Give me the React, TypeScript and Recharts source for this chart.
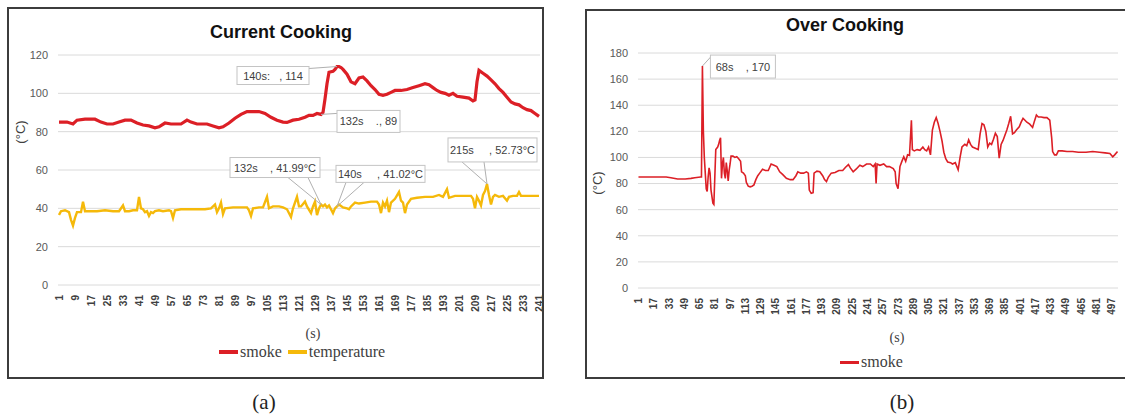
import React from 'react';
import { LineChart, Line, XAxis, YAxis, CartesianGrid, Legend, ReferenceDot } from 'recharts';

// (time in s, value) pairs
const currentSmoke: [number, number][] = [
  [1, 85], [5, 85], [8, 84], [10, 86], [14, 86.5], [19, 86.5], [22, 85], [25, 84], [28, 84], [31, 85],
  [34, 86], [37, 86], [40, 84.5], [43, 83.5], [46, 83], [49, 82], [51, 82.5], [54, 84.5], [57, 84], [62, 84],
  [65, 86], [67, 85], [70, 84], [75, 84], [78, 83], [81, 82], [83, 82.5], [86, 84.5], [89, 87], [92, 89],
  [95, 90.5], [101, 90.5], [104, 89.5], [107, 87.5], [110, 86], [113, 85], [115, 84.8], [118, 86], [121, 86.5],
  [124, 87.5], [126, 88.5], [128, 88.5], [130, 89.5], [132, 89], [133, 90], [134, 97], [135, 105], [136, 111],
  [138, 111.5], [139, 112.5], [140, 114], [141, 114], [142, 113.5], [143, 112.5], [145, 110], [147, 106],
  [149, 105], [151, 108], [153, 108.5], [155, 106.5], [157, 104], [159, 102], [161, 99.5], [163, 99],
  [165, 99.5], [167, 100.5], [169, 101.5], [172, 101.5], [175, 102], [178, 103], [181, 104], [184, 105],
  [186, 104.5], [188, 103], [190, 101.5], [192, 100.5], [194, 100], [196, 99], [198, 100], [200, 98.5],
  [203, 98], [206, 97.5], [208, 96], [209, 96.5], [210, 106], [211, 112], [213, 110.5], [215, 109], [217, 107],
  [219, 105], [221, 102.5], [223, 100.5], [225, 98], [227, 95.5], [229, 94.5], [231, 94], [233, 92.5],
  [235, 91.5], [237, 91], [239, 89.5], [241, 88],
];

const currentTemperature: [number, number][] = [
  [1, 36.5], [2, 38.5], [4, 39], [6, 38], [7, 34], [8, 31], [9, 35], [10, 38], [12, 38], [13, 43.5], [14, 38.5],
  [16, 38.5], [20, 38.5], [24, 39], [28, 38.5], [31, 38.5], [33, 41.5], [34, 38.5], [36, 38.5], [38, 39],
  [40, 39], [41, 46], [42, 40], [43, 39.5], [44, 38], [45, 38.5], [46, 36], [47, 38], [48, 37.5], [49, 38.5],
  [51, 39], [53, 38.5], [56, 39], [57, 38.5], [58, 35], [59, 39], [62, 39.5], [66, 39.5], [70, 39.5],
  [74, 39.5], [77, 40], [79, 42], [80, 38], [81, 40], [82, 43], [83, 37], [84, 40], [88, 40.5], [92, 40.5],
  [95, 40.5], [96, 39], [97, 36], [98, 40], [101, 40.5], [103, 40.5], [105, 46], [106, 40], [108, 41],
  [111, 41], [113, 40.5], [115, 39.5], [117, 35.5], [118, 40], [120, 46], [121, 41], [122, 41], [124, 43.5],
  [125, 41], [127, 37.5], [128, 41], [129, 43.5], [130, 36.5], [131, 40], [132, 42], [133, 41], [134, 42],
  [135, 40.5], [136, 41.5], [138, 37.5], [139, 40], [140, 41], [141, 42], [143, 40.5], [145, 40], [146, 39.5],
  [147, 41], [149, 43], [151, 42.5], [154, 43], [157, 43.5], [160, 43.5], [161, 42], [162, 37.5], [163, 43],
  [164, 41], [165, 44], [166, 38], [167, 43], [169, 45], [171, 48.5], [172, 44], [173, 43], [174, 37.5],
  [175, 42], [177, 45], [180, 45.5], [184, 46], [188, 46], [191, 47], [193, 46], [195, 50], [196, 45.5],
  [199, 46.5], [203, 46.5], [207, 46.5], [208, 45], [209, 40], [210, 46], [211, 44], [212, 41.5], [213, 47],
  [214, 49], [215, 52.7], [216, 47], [217, 42], [218, 46], [219, 47], [221, 46], [223, 46.5], [225, 44],
  [226, 46], [228, 46.5], [230, 46.5], [231, 48.5], [232, 46.5], [235, 46.5], [238, 46.5], [241, 46.5],
];

const overSmoke: [number, number][] = [
  [1, 85], [15, 85], [30, 85], [35, 84.5], [42, 83.5], [50, 83.5], [56, 84], [60, 84.5], [66, 85], [67, 85],
  [68, 170], [69, 120], [70, 100], [71, 88], [72, 76], [73, 74], [74, 85], [75, 92], [76, 88], [77, 75],
  [78, 70], [79, 65], [80, 64], [81, 85], [82, 106], [84, 108], [85, 110], [86, 113], [87, 115], [88, 84],
  [89, 95], [90, 100], [91, 88], [92, 84], [93, 96], [94, 90], [95, 82], [96, 90], [97, 95], [98, 101],
  [100, 101], [102, 100], [104, 100.5], [106, 99], [108, 97], [109, 89], [111, 88], [113, 86], [114, 81],
  [116, 78], [118, 77.5], [120, 78], [122, 79], [124, 83], [126, 86], [128, 88], [131, 91], [134, 90],
  [137, 90], [140, 95], [143, 94], [146, 93], [149, 89], [152, 87], [156, 84], [160, 83], [163, 83], [166, 86],
  [168, 89], [171, 88], [174, 88], [177, 89], [179, 88], [180, 75], [182, 72.5], [184, 73], [185, 88],
  [188, 89.5], [191, 89], [194, 86], [196, 83], [198, 81.5], [200, 85], [203, 88], [207, 88.5], [211, 90],
  [215, 90], [218, 92.5], [221, 94.5], [223, 92], [226, 89], [229, 91], [233, 94], [236, 93], [240, 95],
  [244, 95], [247, 93], [249, 95], [250, 80], [251, 95], [254, 94], [258, 95], [261, 93], [264, 93],
  [268, 91.5], [270, 89], [271, 80], [273, 76], [275, 93], [277, 97], [279, 100.5], [281, 97], [283, 102],
  [285, 101.5], [287, 128.5], [288, 106], [290, 105], [293, 106], [296, 105.5], [299, 108], [301, 106],
  [303, 105], [305, 108], [307, 102], [309, 121], [311, 127], [313, 130.5], [315, 126], [317, 120], [319, 113],
  [321, 104], [323, 99], [325, 96.5], [328, 96], [330, 95], [333, 96], [336, 90.5], [338, 100], [340, 108],
  [343, 110], [345, 109], [347, 113.5], [349, 110], [351, 108], [354, 107], [357, 106], [359, 118], [361, 126],
  [363, 125], [365, 120], [367, 108], [369, 111], [371, 110], [373, 114], [375, 118.5], [377, 116], [379, 99.5],
  [381, 110], [383, 113], [385, 117], [387, 121], [389, 126], [391, 131.5], [393, 118], [395, 119], [397, 121],
  [400, 123.5], [402, 127], [404, 130], [406, 128.5], [408, 127], [411, 125.5], [414, 123], [416, 128],
  [418, 132.5], [420, 131], [423, 131], [426, 130.5], [429, 130.5], [432, 128.5], [434, 115], [435, 104.5],
  [437, 102], [439, 102], [441, 105], [445, 105], [450, 104.5], [456, 104.5], [462, 104], [470, 104],
  [477, 104.5], [484, 104], [490, 103.5], [495, 103], [498, 100.5], [500, 102], [503, 104.5],
];

const currentXTicks = [1, 9, 17, 25, 33, 41, 49, 57, 65, 73, 81, 89, 97, 105, 113, 121, 129, 137, 145, 153,
  161, 169, 177, 185, 193, 201, 209, 217, 225, 233, 241];
const overXTicks = [1, 17, 33, 49, 65, 81, 97, 113, 129, 145, 161, 177, 193, 209, 225, 241, 257, 273, 289,
  305, 321, 337, 353, 369, 385, 401, 417, 433, 449, 465, 481, 497];
const currentYTicks = [0, 20, 40, 60, 80, 100, 120];
const overYTicks = [0, 20, 40, 60, 80, 100, 120, 140, 160, 180];

const currentNotes = [
  { t: 140, v: 114, text: '140s:   , 114' },
  { t: 132, v: 89, text: '132s    ., 89' },
  { t: 132, v: 41.99, text: '132s    , 41.99°C' },
  { t: 140, v: 41.02, text: '140s     , 41.02°C' },
  { t: 215, v: 52.73, text: '215s     , 52.73°C' },
];
const overNotes = [{ t: 68, v: 170, text: '68s    , 170' }];

// callout box offsets from the point, and where the leader lines meet the box
const currentNoteBoxes = [
  { dx: -100, dy: 0, w: 72, h: 18, leaders: [[72, 2]] },
  { dx: 16, dy: -4, w: 63, h: 22, leaders: [[0, 3]] },
  { dx: -91, dy: -47, w: 90, h: 20, leaders: [[58, 20], [78, 20]] },
  { dx: -1, dy: -41, w: 89, h: 17, leaders: [[10, 17], [28, 17]] },
  { dx: -39, dy: -46, w: 89, h: 24, leaders: [[14, 24], [36, 24]] },
];
const overNoteBoxes = [{ dx: 8, dy: -11, w: 65, h: 23, leaders: [[2, 0]] }];

const SANS = '"Liberation Sans", Arial, sans-serif';
const SERIF = '"Liberation Serif", "Times New Roman", serif';
const RED = '#dc1f26';
const GOLD = '#f5b90a';

const toRows = (pairs: [number, number][]) => pairs.map(([t, v]) => ({ t, v }));

const RotatedTick = (props: any) => {
  const { x, y, payload } = props;
  const ty = y + 2;
  return (
    <text x={x} y={ty} transform={`rotate(-90, ${x}, ${ty})`} textAnchor="end" dy="0.35em"
      fontSize={10} fontWeight="bold" fill="#404040" fontFamily={SANS}>
      {payload.value}
    </text>
  );
};

const Callout = ({ cx, cy, text, box }: any) => {
  const bx = cx + box.dx;
  const by = cy + box.dy;
  return (
    <g>
      {box.leaders.map(([lx, ly]: number[], i: number) => (
        <line key={i} x1={cx} y1={cy} x2={bx + lx} y2={by + ly} stroke="#b0b0b0" strokeWidth={1} />
      ))}
      <rect x={bx} y={by} width={box.w} height={box.h} fill="#fff" stroke="#c4c4c4" strokeWidth={1} />
      <text x={bx + box.w / 2} y={by + box.h / 2} textAnchor="middle" dominantBaseline="central"
        fontSize={11} fill="#404040" fontFamily={SANS} style={{ whiteSpace: 'pre' }}>
        {text}
      </text>
    </g>
  );
};

const AxisTitle = ({ viewBox, value, dx, dy, rotate }: any) => {
  const x = viewBox.x + dx;
  const y = viewBox.y + dy;
  return (
    <text x={x} y={y} textAnchor="middle" dominantBaseline="central"
      transform={rotate ? `rotate(-90, ${x}, ${y})` : undefined}
      fontSize={rotate ? 13 : 14} fontFamily={rotate ? SANS : SERIF} fill="#404040">
      {value}
    </text>
  );
};

const LegendRow = ({ payload, thick }: any) => (
  <div style={{ display: 'flex', alignItems: 'center', fontFamily: SERIF, fontSize: 16, color: '#404040', whiteSpace: 'nowrap' }}>
    {(payload || []).map((entry: any) => (
      <span key={entry.value} style={{ display: 'inline-flex', alignItems: 'center', marginRight: 6 }}>
        <span style={{ display: 'inline-block', width: 19, height: thick, background: entry.color, marginRight: 2 }} />
        {entry.value}
      </span>
    ))}
  </div>
);

const panel = (left: number, top: number, width: number, height: number): React.CSSProperties => ({
  position: 'absolute', left, top, width, height, border: '2px solid #3c3c3c', boxSizing: 'border-box',
});

const title = (center: number, top: number): React.CSSProperties => ({
  position: 'absolute', left: center - 120, width: 240, top, textAlign: 'center',
  fontFamily: SANS, fontWeight: 'bold', fontSize: 18, color: '#111',
});

const caption = (center: number): React.CSSProperties => ({
  position: 'absolute', left: center - 30, width: 60, top: 390, textAlign: 'center',
  fontFamily: SERIF, fontSize: 21, color: '#222',
});

export default function App() {
  const smokeRows = toRows(currentSmoke);
  const tempRows = toRows(currentTemperature);
  const overRows = toRows(overSmoke);

  return (
    <div style={{ position: 'absolute', left: 0, top: 0, width: 1125, height: 416, overflow: 'hidden', background: '#fff' }}>
      <div style={panel(7, 7, 537, 372)} />
      <div style={panel(585, 9, 560, 370)} />

      <div style={title(281, 22)}>Current Cooking</div>
      <div style={title(845, 15)}>Over Cooking</div>
      <div style={caption(264)}>(a)</div>
      <div style={caption(902)}>(b)</div>

      <div style={{ position: 'absolute', left: 0, top: 0 }}>
        <LineChart width={545} height={378} margin={{ top: 55, right: 5, bottom: 0, left: 0 }}>
          <CartesianGrid vertical={false} stroke="#dadada" />
          <XAxis type="number" dataKey="t" domain={[0.5, 241.5]} ticks={currentXTicks} interval={0}
            allowDataOverflow axisLine={false} tickLine={false} height={93} tick={<RotatedTick />}
            label={<AxisTitle value="(s)" dx={255} dy={48} />} />
          <YAxis type="number" domain={[0, 120]} ticks={currentYTicks} width={58} axisLine={false}
            tickLine={false} tickMargin={4} tick={{ fill: '#595959', fontSize: 11, fontFamily: SANS }}
            label={<AxisTitle value="(°C)" dx={20} dy={77} rotate />} />
          <Legend verticalAlign="middle" align="center" layout="horizontal"
            wrapperStyle={{ left: 219, top: 343, width: 220 }}
            content={(p: any) => <LegendRow payload={p.payload} thick={4} />} />
          <Line data={smokeRows} dataKey="v" name="smoke" type="linear" stroke={RED} strokeWidth={3.2}
            dot={false} isAnimationActive={false} />
          <Line data={tempRows} dataKey="v" name="temperature" type="linear" stroke={GOLD} strokeWidth={2.4}
            dot={false} isAnimationActive={false} />
          {currentNotes.map((n, i) => (
            <ReferenceDot key={i} x={n.t} y={n.v} r={1} ifOverflow="visible"
              shape={(p: any) => <Callout cx={p.cx} cy={p.cy} text={n.text} box={currentNoteBoxes[i]} />} />
          ))}
        </LineChart>
      </div>

      <div style={{ position: 'absolute', left: 586, top: 0 }}>
        <LineChart width={539} height={378} margin={{ top: 53, right: 7, bottom: 0, left: 0 }}>
          <CartesianGrid vertical={false} stroke="#dadada" />
          <XAxis type="number" dataKey="t" domain={[0.5, 503.5]} ticks={overXTicks} interval={0}
            allowDataOverflow axisLine={false} tickLine={false} height={90} tick={<RotatedTick />}
            label={<AxisTitle value="(s)" dx={259} dy={49} />} />
          <YAxis type="number" domain={[0, 180]} ticks={overYTicks} width={52} axisLine={false}
            tickLine={false} tickMargin={4} tick={{ fill: '#595959', fontSize: 11, fontFamily: SANS }}
            label={<AxisTitle value="(°C)" dx={11} dy={130} rotate />} />
          <Legend verticalAlign="middle" align="center" layout="horizontal"
            wrapperStyle={{ left: 254, top: 353, width: 120 }}
            content={(p: any) => <LegendRow payload={p.payload} thick={3} />} />
          <Line data={overRows} dataKey="v" name="smoke" type="linear" stroke={RED} strokeWidth={1.6}
            dot={false} isAnimationActive={false} />
          {overNotes.map((n, i) => (
            <ReferenceDot key={i} x={n.t} y={n.v} r={1} ifOverflow="visible"
              shape={(p: any) => <Callout cx={p.cx} cy={p.cy} text={n.text} box={overNoteBoxes[i]} />} />
          ))}
        </LineChart>
      </div>
    </div>
  );
}
